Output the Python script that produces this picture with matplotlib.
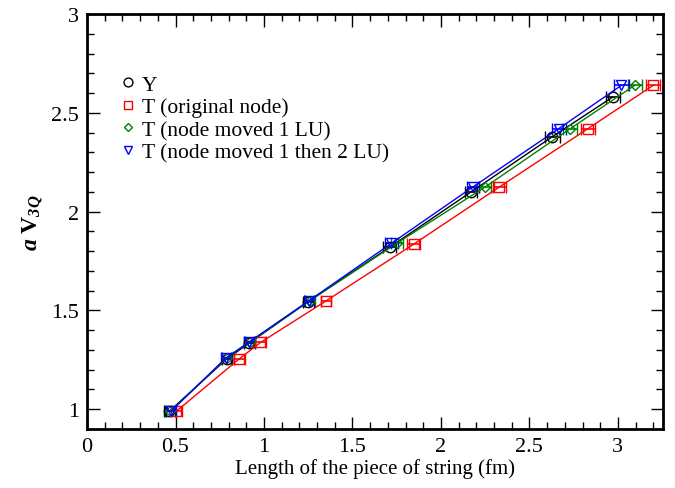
import matplotlib
matplotlib.use("Agg")
import matplotlib.pyplot as plt
from matplotlib.ticker import MultipleLocator, FormatStrFormatter
from matplotlib.lines import Line2D

plt.rcParams['font.family'] = ['Liberation Serif', 'DejaVu Serif']
plt.rcParams['mathtext.fontset'] = 'custom'
plt.rcParams['mathtext.rm'] = 'Liberation Serif'
plt.rcParams['mathtext.it'] = 'Liberation Serif:italic'
plt.rcParams['mathtext.bf'] = 'Liberation Serif:bold'
plt.rcParams['mathtext.bfit'] = 'Liberation Serif:bold:italic'

# Data
y_x = [0.465, 0.79, 0.917, 1.25, 1.71, 2.17, 2.63, 2.97]
y_v = [0.99, 1.255, 1.335, 1.545, 1.82, 2.10, 2.38, 2.58]
y_xerr = [0.03, 0.03, 0.03, 0.03, 0.035, 0.035, 0.04, 0.04]

t0_x = [0.505, 0.86, 0.98, 1.35, 1.845, 2.33, 2.83, 3.20]
t0_v = [0.99, 1.255, 1.338, 1.548, 1.835, 2.125, 2.42, 2.64]
t0_xerr = [0.03, 0.03, 0.03, 0.03, 0.035, 0.035, 0.04, 0.04]

t1_x = [0.47, 0.79, 0.92, 1.26, 1.75, 2.25, 2.73, 3.095]
t1_v = [0.99, 1.26, 1.34, 1.55, 1.84, 2.125, 2.42, 2.64]
t1_xerr = [0.03, 0.03, 0.03, 0.03, 0.035, 0.035, 0.04, 0.04]

t2_x = [0.475, 0.785, 0.915, 1.255, 1.72, 2.18, 2.665, 3.02]
t2_v = [0.99, 1.26, 1.34, 1.55, 1.84, 2.125, 2.42, 2.64]
t2_xerr = [0.03, 0.03, 0.03, 0.03, 0.035, 0.035, 0.04, 0.04]

labels = ["Y", "T (original node)", "T (node moved 1 LU)", "T (node moved 1 then 2 LU)"]

fig = plt.figure(figsize=(6.75, 4.89), dpi=100)
ax = fig.add_axes([0.129, 0.1207, 0.853, 0.8483])

series = [
    (y_x, y_v, y_xerr, 'black', 'o', 7.5),
    (t0_x, t0_v, t0_xerr, 'red', 's', 6.5),
    (t1_x, t1_v, t1_xerr, 'green', 'D', 5),
    (t2_x, t2_v, t2_xerr, 'blue', 'v', 7),
]
for (xs, vs, xe, c, m, ms), lab in zip(series, labels):
    ax.errorbar(xs, vs, xerr=xe, color=c, marker=m, ms=ms, mfc='none', mec=c,
                mew=1.0, lw=1.0, elinewidth=1.2, capsize=4, capthick=1.2,
                label=lab)

ax.set_xlim(0, 3.254)
ax.set_ylim(0.9, 3.0)
ax.xaxis.set_major_locator(MultipleLocator(0.5))
ax.xaxis.set_minor_locator(MultipleLocator(0.1))
ax.yaxis.set_major_locator(MultipleLocator(0.5))
ax.yaxis.set_minor_locator(MultipleLocator(0.1))
ax.xaxis.set_major_formatter(FormatStrFormatter('%g'))
ax.yaxis.set_major_formatter(FormatStrFormatter('%g'))
ax.tick_params(which='both', direction='in', top=True, right=True, labelsize=16, width=1.0)
ax.tick_params(which='major', length=9, pad=6)
ax.tick_params(which='minor', length=5)
for s in ax.spines.values():
    s.set_linewidth(2)

ax.set_xlabel("Length of the piece of string (fm)", fontsize=15, labelpad=1)
ax.set_ylabel(r"$\mathbfit{a}\ \mathbf{V}_{\mathbfit{3Q}}$", fontsize=17, labelpad=4)

handles = [Line2D([], [], color=c, marker=m, ms=ms * 0.85, mfc='none', mec=c, ls='none', mew=1.0)
           for (_, _, _, c, m, ms) in series]
ax.legend(handles, labels, loc='upper left', bbox_to_anchor=(0.035, 0.875), frameon=False,
          fontsize=15.5, handletextpad=0.1, labelspacing=0.12, borderaxespad=0, handlelength=1.1)

fig.savefig("out.png", dpi=100)
